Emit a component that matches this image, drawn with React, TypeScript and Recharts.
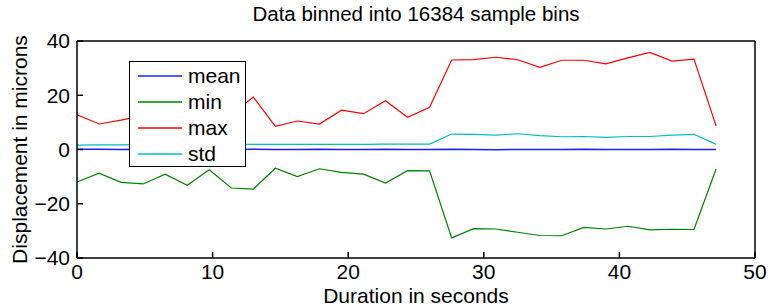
import { LineChart, Line, XAxis, YAxis, Legend, Label } from 'recharts';

const times = [
  0, 1.63, 3.25, 4.88, 6.5, 8.13, 9.75, 11.38, 13, 14.63, 16.25, 17.88, 19.5, 21.13, 22.75,
  24.38, 26, 27.63, 29.25, 30.88, 32.5, 34.13, 35.75, 37.38, 39, 40.63, 42.25, 43.88, 45.5, 47.13,
];
const meanVals = [
  0.1, 0.1, 0, 0.1, 0, 0.1, 0, 0, 0.1, 0, 0, 0.1, 0, 0, 0.1,
  0, 0, 0.1, 0, -0.1, 0, 0, 0, 0.1, 0, 0, 0, 0.1, 0, 0,
];
const minVals = [
  -12.0, -8.7, -12.1, -12.7, -9.1, -13.2, -7.5, -14.2, -14.6, -6.9, -10.0, -7.1, -8.4, -9.1, -12.4,
  -7.8, -7.9, -32.6, -29.2, -29.3, -30.5, -31.7, -31.8, -28.7, -29.3, -28.3, -29.6, -29.4, -29.5, -7.2,
];
const maxVals = [
  12.8, 9.4, 10.8, 12.5, 14, 11.5, 15, 13, 19.3, 8.5, 10.5, 9.4, 14.5, 13.2, 18.0,
  11.9, 15.6, 33.0, 33.1, 34.0, 33.1, 30.3, 32.9, 32.9, 31.6, 33.8, 35.8, 32.6, 33.3, 8.7,
];
const stdVals = [
  1.6, 1.7, 1.7, 1.8, 1.8, 1.8, 1.8, 1.9, 1.9, 1.9, 1.9, 1.9, 1.9, 1.9, 2.0,
  2.0, 2.0, 5.7, 5.6, 5.3, 5.8, 5.1, 4.7, 4.8, 4.5, 4.8, 4.8, 5.3, 5.6, 1.9,
];
const xTicks = [0, 10, 20, 30, 40, 50];
const yTicks = [-40, -20, 0, 20, 40];

// mean is drawn against the top/right axes (same domains) so the box edges get drawn
const series = [
  { key: 'mean', color: '#2020ff', xId: 'top', yId: 'right' },
  { key: 'min', color: '#008000', xId: 0, yId: 0 },
  { key: 'max', color: '#ff0000', xId: 0, yId: 0 },
  { key: 'std', color: '#00bfbf', xId: 0, yId: 0 },
];

const data = times.map((t, i) => ({
  t,
  mean: meanVals[i],
  min: minVals[i],
  max: maxVals[i],
  std: stdVals[i],
}));

const FONT = '"Liberation Sans", Arial, Helvetica, sans-serif';
const fmt = (v: number) => String(v).replace('-', '\u2212');

const LegendBox = () => (
  <div
    style={{
      width: 117,
      height: 106,
      border: '1.5px solid #000',
      background: '#fff',
      boxSizing: 'border-box',
      fontFamily: FONT,
      fontSize: 21,
      paddingTop: 1,
    }}
  >
    {series.map((s) => (
      <div key={s.key} style={{ display: 'flex', alignItems: 'center', height: 26 }}>
        <svg width={44} height={4} style={{ marginLeft: 8, marginRight: 6 }}>
          <line x1={0} y1={2} x2={44} y2={2} stroke={s.color} strokeWidth={1.5} />
        </svg>
        <span>{s.key}</span>
      </div>
    ))}
  </div>
);

const App = () => {
  return (
    <div style={{ position: 'absolute', left: 0, top: 0, width: 768, height: 307, background: '#fff' }}>
      <div
        style={{
          position: 'absolute',
          left: 0,
          width: 832,
          top: 3,
          textAlign: 'center',
          fontFamily: FONT,
          fontSize: 20.5,
          lineHeight: '22px',
        }}
      >
        Data binned into 16384 sample bins
      </div>
      <LineChart width={768} height={307} data={data} margin={{ top: 40, right: 12, bottom: 0, left: 0 }}>
        <XAxis
          dataKey="t"
          type="number"
          domain={[0, 50]}
          ticks={xTicks}
          height={49}
          tickSize={-6}
          tickMargin={12}
          stroke="#000"
          strokeWidth={1.5}
          tick={{ fill: '#000', fontSize: 21, fontFamily: FONT }}
        >
          <Label
            value="Duration in seconds"
            position="insideBottom"
            offset={4}
            style={{ fill: '#000', fontSize: 21, fontFamily: FONT }}
          />
        </XAxis>
        <XAxis
          xAxisId="top"
          dataKey="t"
          orientation="top"
          type="number"
          domain={[0, 50]}
          ticks={xTicks}
          height={1}
          tickSize={-6}
          tick={false}
          stroke="#000"
          strokeWidth={1.5}
        />
        <YAxis
          domain={[-40, 40]}
          ticks={yTicks}
          width={77}
          tickSize={-6}
          tickMargin={13}
          tickFormatter={fmt}
          stroke="#000"
          strokeWidth={1.5}
          tick={{ fill: '#000', fontSize: 21, fontFamily: FONT }}
        >
          <Label
            value="Displacement in microns"
            position="insideLeft"
            angle={-90}
            offset={20}
            style={{ fill: '#000', fontSize: 21, fontFamily: FONT, textAnchor: 'middle' }}
          />
        </YAxis>
        <YAxis
          yAxisId="right"
          orientation="right"
          domain={[-40, 40]}
          ticks={yTicks}
          width={1}
          tickSize={-6}
          tick={false}
          stroke="#000"
          strokeWidth={1.5}
        />
        <Legend
          layout="vertical"
          align="center"
          verticalAlign="middle"
          wrapperStyle={{ left: 129, top: 61, width: 117 }}
          content={() => <LegendBox />}
        />
        {series.map((s) => (
          <Line
            key={s.key}
            dataKey={s.key}
            xAxisId={s.xId}
            yAxisId={s.yId}
            stroke={s.color}
            strokeWidth={s.key === 'mean' ? 1.5 : 1.2}
            dot={false}
            isAnimationActive={false}
          />
        ))}
      </LineChart>
    </div>
  );
};

export default App;
